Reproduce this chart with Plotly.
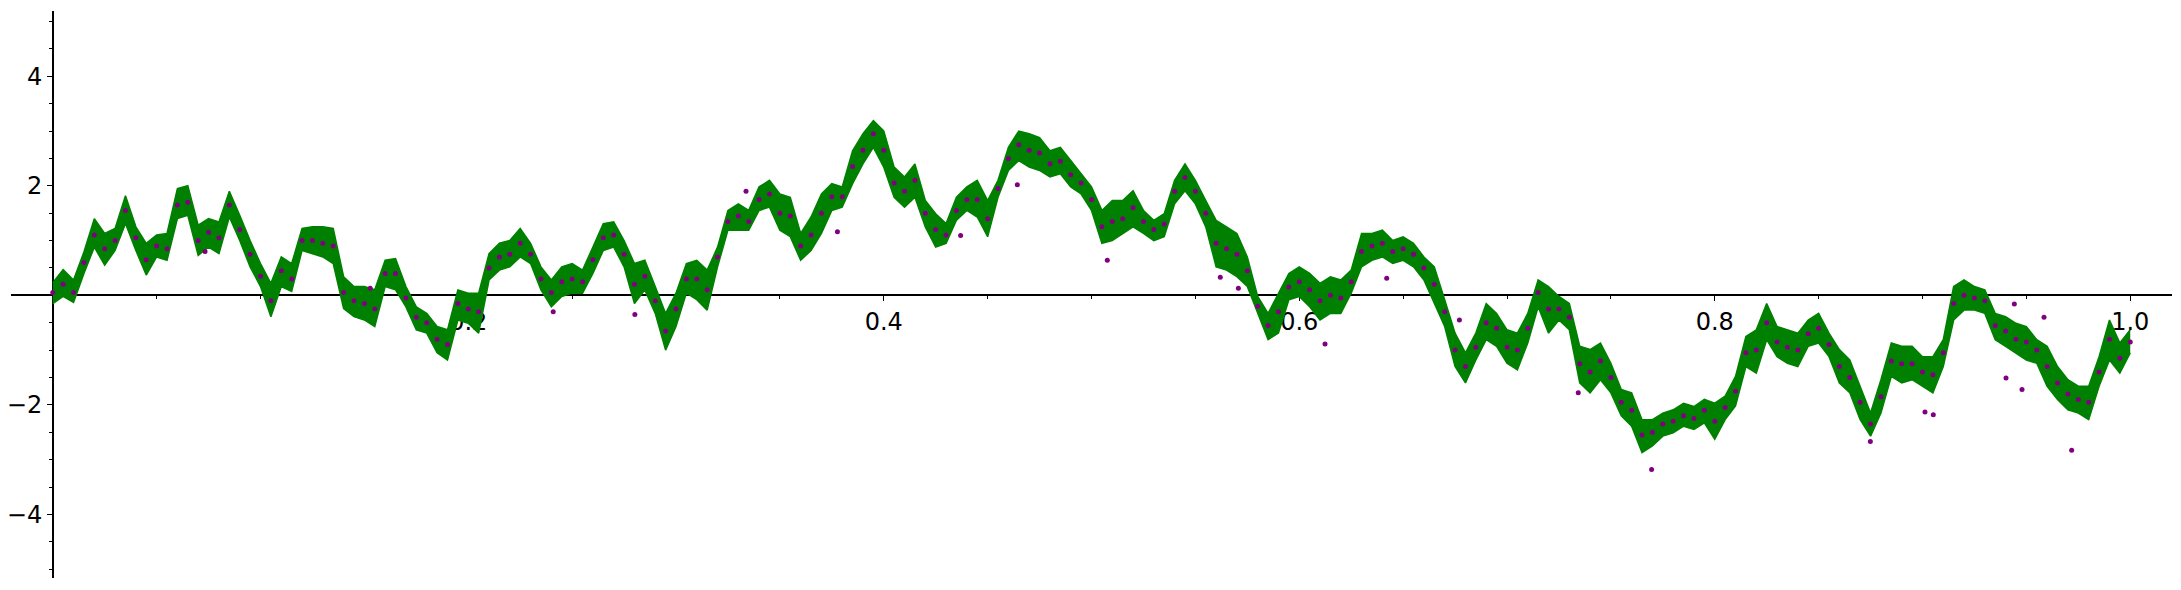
import plotly.graph_objects as go

# sample times along the path (read every 0.005)
T = [
    0.000, 0.005, 0.010, 0.015, 0.020, 0.025, 0.030, 0.035, 0.040, 0.045,
    0.050, 0.055, 0.060, 0.065, 0.070, 0.075, 0.080, 0.085, 0.090, 0.095,
    0.100, 0.105, 0.110, 0.115, 0.120, 0.125, 0.130, 0.135, 0.140, 0.145,
    0.150, 0.155, 0.160, 0.165, 0.170, 0.175, 0.180, 0.185, 0.190, 0.195,
    0.200, 0.205, 0.210, 0.215, 0.220, 0.225, 0.230, 0.235, 0.240, 0.245,
    0.250, 0.255, 0.260, 0.265, 0.270, 0.275, 0.280, 0.285, 0.290, 0.295,
    0.300, 0.305, 0.310, 0.315, 0.320, 0.325, 0.330, 0.335, 0.340, 0.345,
    0.350, 0.355, 0.360, 0.365, 0.370, 0.375, 0.380, 0.385, 0.390, 0.395,
    0.400, 0.405, 0.410, 0.415, 0.420, 0.425, 0.430, 0.435, 0.440, 0.445,
    0.450, 0.455, 0.460, 0.465, 0.470, 0.475, 0.480, 0.485, 0.490, 0.495,
    0.500, 0.505, 0.510, 0.515, 0.520, 0.525, 0.530, 0.535, 0.540, 0.545,
    0.550, 0.555, 0.560, 0.565, 0.570, 0.575, 0.580, 0.585, 0.590, 0.595,
    0.600, 0.605, 0.610, 0.615, 0.620, 0.625, 0.630, 0.635, 0.640, 0.645,
    0.650, 0.655, 0.660, 0.665, 0.670, 0.675, 0.680, 0.685, 0.690, 0.695,
    0.700, 0.705, 0.710, 0.715, 0.720, 0.725, 0.730, 0.735, 0.740, 0.745,
    0.750, 0.755, 0.760, 0.765, 0.770, 0.775, 0.780, 0.785, 0.790, 0.795,
    0.800, 0.805, 0.810, 0.815, 0.820, 0.825, 0.830, 0.835, 0.840, 0.845,
    0.850, 0.855, 0.860, 0.865, 0.870, 0.875, 0.880, 0.885, 0.890, 0.895,
    0.900, 0.905, 0.910, 0.915, 0.920, 0.925, 0.930, 0.935, 0.940, 0.945,
    0.950, 0.955, 0.960, 0.965, 0.970, 0.975, 0.980, 0.985, 0.990, 0.995,
    1.000,
]

# upper edge of the noisy green band
HI = [
    0.23, 0.47, 0.28, 0.79, 1.40, 1.13, 1.22, 1.82, 1.25, 0.95,
    1.10, 1.13, 1.95, 2.00, 1.28, 1.40, 1.34, 1.90, 1.46, 1.00,
    0.58, 0.22, 0.70, 0.58, 1.22, 1.25, 1.25, 1.22, 0.34,
    0.16, 0.16, 0.10, 0.64, 0.67, 0.16, -0.21, -0.33, -0.57, -0.63,
    0.10, 0.04, 0.04, 0.76, 0.95, 1.00, 1.22, 0.95, 0.52, 0.28,
    0.52, 0.58, 0.46, 0.88, 1.31, 1.34, 1.00, 0.58, 0.64,
    0.16, -0.33, 0.04, 0.58, 0.64, 0.46, 0.88, 1.55, 1.67, 1.55,
    1.98, 2.10, 1.85, 1.79, 1.13, 1.43, 1.85, 2.04, 1.98, 2.64,
    2.95, 3.19, 3.00, 2.34, 2.16, 2.40, 1.73, 1.49,
    1.31, 1.79, 1.98, 2.10, 1.73, 2.10, 2.70, 3.00, 2.95, 2.88,
    2.64, 2.70, 2.46, 2.22, 1.98, 1.55, 1.73, 1.73, 1.91, 1.55,
    1.37, 1.49, 2.10, 2.40, 2.10, 1.73, 1.37, 1.25, 1.13,
    0.70, -0.02, -0.33, 0.04, 0.40, 0.52, 0.40, 0.22, 0.34, 0.28,
    0.46, 1.13, 1.13, 1.19, 1.00, 1.07, 0.95, 0.70, 0.52, -0.08,
    -0.69, -1.05, -0.69, -0.15, -0.33, -0.63, -0.69, -0.33, 0.28,
    0.16, -0.02, -0.15, -0.93, -0.99, -0.87, -1.24, -1.72, -1.78, -2.27,
    -2.27, -2.15, -2.09, -1.97, -2.03, -1.90, -1.97, -1.84, -1.48, -0.75,
    -0.63, -0.15, -0.57, -0.63, -0.69, -0.45, -0.33, -0.69, -0.99,
    -1.18, -1.66, -2.15, -1.54, -0.87, -0.93, -0.93, -1.12, -1.12, -0.81,
    0.16, 0.28, 0.16, 0.10, -0.33, -0.39, -0.51, -0.57, -0.81, -0.93,
    -1.30, -1.54, -1.66, -1.66, -1.12, -0.45, -0.87, -0.63,
]

# lower edge of the band
LO = [
    -0.15, -0.02, -0.13, 0.40, 0.88, 0.55, 0.82, 1.31, 0.82, 0.37,
    0.70, 0.64, 1.40, 1.46, 0.73, 0.88, 0.76, 1.43, 1.00, 0.52,
    0.16, -0.39, 0.16, 0.07, 0.82, 0.76, 0.70, 0.58, -0.24,
    -0.39, -0.45, -0.57, 0.16, 0.10, -0.21, -0.63, -0.69, -1.05, -1.18,
    -0.45, -0.51, -0.69, 0.28, 0.46, 0.52, 0.70, 0.58, 0.10, -0.21,
    -0.02, 0.04, 0.04, 0.40, 0.82, 0.88, 0.52, -0.15, 0.10,
    -0.33, -1.00, -0.57, 0.04, -0.08, -0.27, 0.52, 1.19, 1.19, 1.19,
    1.55, 1.61, 1.19, 1.07, 0.64, 0.82, 1.13, 1.55, 1.61, 2.04,
    2.40, 2.70, 2.34, 1.79, 1.61, 1.79, 1.25, 0.88,
    0.95, 1.37, 1.55, 1.43, 1.07, 1.79, 2.28, 2.46, 2.34, 2.28,
    2.16, 2.22, 1.98, 1.85, 1.55, 0.95, 1.00, 1.13, 1.25, 1.13,
    1.00, 1.07, 1.67, 1.91, 1.67, 1.25, 0.52, 0.46, 0.34,
    0.16, -0.33, -0.81, -0.69, -0.08, -0.02, -0.21, -0.45, -0.33, -0.33,
    0.04, 0.52, 0.64, 0.70, 0.58, 0.64, 0.52, 0.28, -0.15, -0.57,
    -1.30, -1.60, -1.18, -0.81, -0.93, -1.24, -1.36, -0.87, -0.21,
    -0.69, -0.45, -0.63, -1.60, -1.78, -1.54, -1.78, -2.20, -2.39, -2.87,
    -2.75, -2.57, -2.51, -2.39, -2.45, -2.33, -2.63, -2.27, -2.02, -1.30,
    -1.42, -0.81, -1.12, -1.24, -1.30, -0.93, -0.87, -1.12, -1.60,
    -1.78, -2.27, -2.57, -2.15, -1.48, -1.60, -1.54, -1.66, -1.78, -1.30,
    -0.45, -0.27, -0.27, -0.33, -0.81, -0.93, -1.05, -1.18, -1.24, -1.66,
    -1.90, -2.09, -2.15, -2.27, -1.66, -1.18, -1.42, -1.05,
]

# purple sample dots sitting inside the band
MID = [
    0.05, 0.20, 0.05, 0.60, 1.10, 0.85, 1.00, 1.55, 1.05, 0.65,
    0.90, 0.85, 1.65, 1.70, 1.00, 1.15, 1.05, 1.65, 1.20, 0.75,
    0.35, -0.10, 0.45, 0.30, 1.00, 1.00, 0.95, 0.90, 0.05,
    -0.10, -0.15, -0.25, 0.40, 0.40, -0.05, -0.40, -0.50, -0.80, -0.90,
    -0.15, -0.25, -0.30, 0.50, 0.70, 0.75, 0.95, 0.75, 0.30, 0.05,
    0.25, 0.30, 0.25, 0.65, 1.05, 1.10, 0.75, 0.20, 0.35,
    -0.10, -0.65, -0.25, 0.30, 0.30, 0.10, 0.70, 1.35, 1.45, 1.35,
    1.75, 1.85, 1.50, 1.45, 0.90, 1.10, 1.50, 1.80, 1.80, 2.35,
    2.65, 2.95, 2.65, 2.05, 1.90, 2.10, 1.50, 1.20,
    1.10, 1.55, 1.75, 1.75, 1.40, 1.95, 2.50, 2.75, 2.65, 2.60,
    2.40, 2.45, 2.20, 2.05, 1.75, 1.25, 1.35, 1.40, 1.60, 1.35,
    1.20, 1.30, 1.90, 2.15, 1.90, 1.50, 0.95, 0.85, 0.75,
    0.45, -0.20, -0.55, -0.30, 0.15, 0.25, 0.10, -0.10, 0.00, -0.05,
    0.25, 0.80, 0.90, 0.95, 0.80, 0.85, 0.75, 0.50, 0.20, -0.30,
    -1.00, -1.30, -0.95, -0.50, -0.60, -0.95, -1.00, -0.60, 0.05,
    -0.25, -0.25, -0.40, -1.25, -1.40, -1.20, -1.50, -1.95, -2.10, -2.55,
    -2.50, -2.35, -2.30, -2.20, -2.25, -2.10, -2.30, -2.05, -1.75, -1.05,
    -1.00, -0.50, -0.85, -0.95, -1.00, -0.70, -0.60, -0.90, -1.30,
    -1.50, -1.95, -2.35, -1.85, -1.20, -1.25, -1.25, -1.40, -1.45, -1.05,
    -0.15, 0.00, -0.05, -0.10, -0.55, -0.65, -0.80, -0.85, -1.00, -1.30,
    -1.60, -1.80, -1.90, -1.95, -1.40, -0.80, -1.15, -0.85,
]

# stray purple dots that sit outside the band
STRAY_T = [0.0733, 0.1528, 0.2409, 0.2802, 0.3337, 0.3777, 0.437, 0.4643,
           0.5076, 0.562, 0.5707, 0.6124, 0.6421, 0.6771, 0.7343, 0.7696,
           0.8749, 0.9012, 0.9052, 0.9402, 0.9442, 0.9479, 0.9585, 0.9718]
STRAY_V = [0.80, 0.13, -0.30, -0.35, 1.90, 1.16, 1.09, 2.02,
           0.64, 0.33, 0.13, -0.89, 0.31, -0.45, -1.78, -3.18,
           -2.67, -2.13, -2.18, -1.51, -0.16, -1.72, -0.40, -2.83]

X_TICKS = [0.2, 0.4, 0.6, 0.8, 1.0]
X_LABELS = ["0.2", "0.4", "0.6", "0.8", "1.0"]
Y_TICKS = [-4, -2, 2, 4]
Y_LABELS = ["\u22124", "\u22122", "2", "4"]

X_RANGE = [-0.0201, 1.0201]
Y_RANGE = [-5.161, 5.191]

GREEN = "#008000"
PURPLE = "#800080"
FONT = dict(family="DejaVu Sans", size=24, color="black")

assert len(T) == len(HI) == len(LO) == len(MID) == 201

fig = go.Figure()
fig.add_trace(go.Scatter(x=T, y=HI, mode="lines", line=dict(color=GREEN, width=1.5),
                         hoverinfo="skip", showlegend=False))
fig.add_trace(go.Scatter(x=T, y=LO, mode="lines", line=dict(color=GREEN, width=1.5),
                         fill="tonexty", fillcolor=GREEN,
                         hoverinfo="skip", showlegend=False))
fig.add_trace(go.Scatter(x=T + STRAY_T, y=MID + STRAY_V, mode="markers",
                         marker=dict(color=PURPLE, size=5, line=dict(width=0)),
                         hoverinfo="skip", showlegend=False))

# axes cross at the origin, like the source plot
x_axis_pos = (0 - Y_RANGE[0]) / (Y_RANGE[1] - Y_RANGE[0])
y_axis_pos = (0 - X_RANGE[0]) / (X_RANGE[1] - X_RANGE[0])

axis_common = dict(showline=True, linecolor="black", linewidth=1.5,
                   ticks="outside", ticklen=5, tickwidth=1.2, tickcolor="black",
                   tickmode="array", showgrid=False, zeroline=False,
                   tickfont=FONT, layer="below traces", automargin=False,
                   anchor="free")

# the page body keeps its default 8px margin, so the figure is 8px smaller
fig.update_layout(
    width=2173, height=582, paper_bgcolor="white", plot_bgcolor="white",
    margin=dict(l=3, r=9, t=3, b=12, autoexpand=False), showlegend=False,
    font=FONT,
    xaxis=dict(range=X_RANGE, position=x_axis_pos,
               tickvals=X_TICKS, ticktext=X_LABELS,
               minor=dict(ticks="outside", tick0=0, dtick=0.05, ticklen=3,
                          tickwidth=1, tickcolor="black"),
               **axis_common),
    yaxis=dict(range=Y_RANGE, position=y_axis_pos,
               tickvals=Y_TICKS, ticktext=Y_LABELS,
               minor=dict(ticks="outside", tick0=0, dtick=0.5, ticklen=3,
                          tickwidth=1, tickcolor="black"),
               **axis_common),
)

fig.write_html("out.html")
